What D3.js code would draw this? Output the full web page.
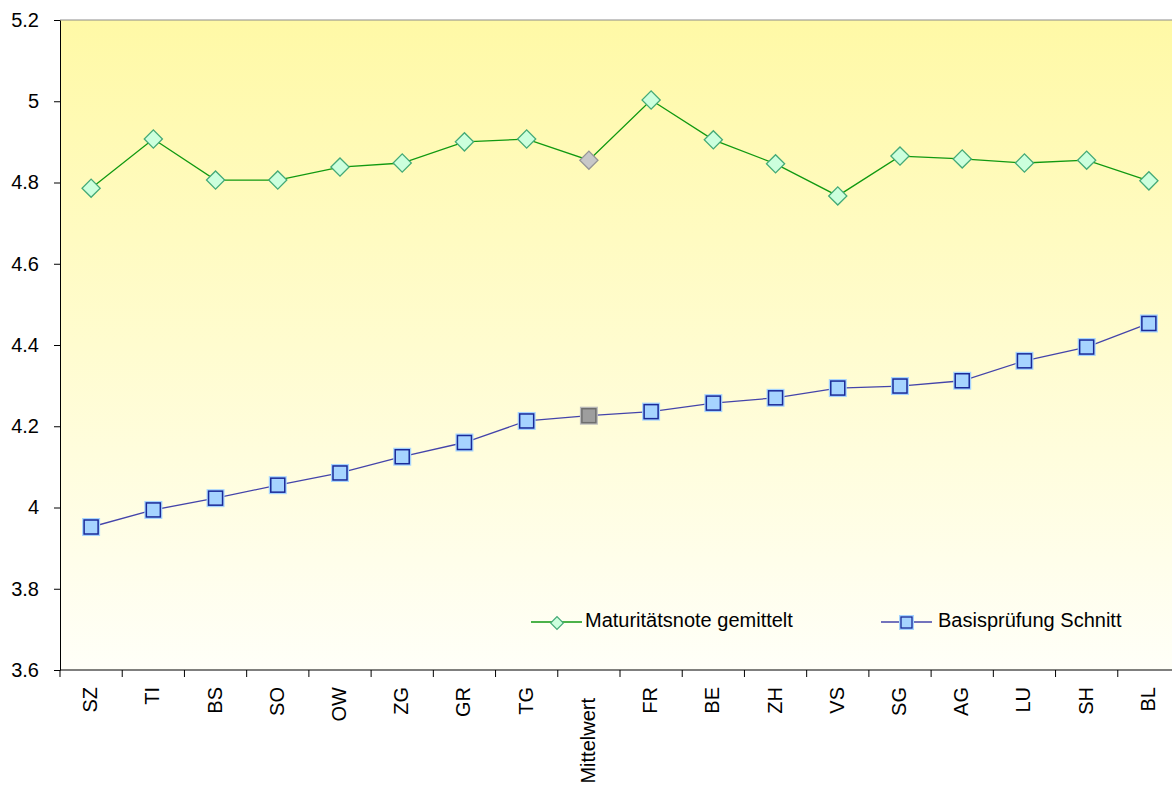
<!DOCTYPE html>
<html>
<head>
<meta charset="utf-8">
<script src="https://cdn.jsdelivr.net/npm/d3@7"></script>
<style>
  body { margin: 0; background: #fff; }
  text { font-family: "Liberation Sans", Arial, sans-serif; }
</style>
</head>
<body>
<div id="chart"></div>
<script>
const kantone = ["SZ", "TI", "BS", "SO", "OW", "ZG", "GR", "TG", "Mittelwert", "FR", "BE", "ZH", "VS", "SG", "AG", "LU", "SH", "BL"];
const maturitaetsnote = [4.786, 4.907, 4.806, 4.806, 4.838, 4.848, 4.900, 4.907, 4.855, 5.003, 4.905, 4.846, 4.767, 4.865, 4.858, 4.848, 4.855, 4.804];
const basispruefung = [3.952, 3.994, 4.023, 4.055, 4.085, 4.125, 4.160, 4.213, 4.226, 4.236, 4.257, 4.270, 4.294, 4.299, 4.312, 4.361, 4.395, 4.453];
const yTicks = [3.6, 3.8, 4, 4.2, 4.4, 4.6, 4.8, 5, 5.2];

const width = 1172, height = 787;
const margin = { top: 20, right: -8, bottom: 117, left: 60 };
const innerW = width - margin.left - margin.right;
const innerH = height - margin.top - margin.bottom;

const svg = d3.select("#chart").append("svg")
    .attr("width", width)
    .attr("height", height);

const defs = svg.append("defs");
const grad = defs.append("linearGradient")
    .attr("id", "bg")
    .attr("x1", "0%").attr("y1", "0%")
    .attr("x2", "0%").attr("y2", "100%");
grad.append("stop").attr("offset", "0%").attr("stop-color", "#fff9a6");
grad.append("stop").attr("offset", "100%").attr("stop-color", "#fffff8");

const g = svg.append("g")
    .attr("transform", `translate(${margin.left},${margin.top})`);

const x = d3.scaleBand().domain(kantone).range([0, innerW]);
const y = d3.scaleLinear().domain([3.6, 5.2]).range([innerH, 0]);

g.append("rect")
    .attr("width", innerW)
    .attr("height", innerH)
    .attr("fill", "url(#bg)");

// top border
g.append("line")
    .attr("x1", 0).attr("x2", innerW)
    .attr("y1", 0).attr("y2", 0)
    .attr("stroke", "#8c8c8c");

// y axis
const yAxis = g.append("g")
    .call(d3.axisLeft(y).tickValues(yTicks).tickSize(6).tickSizeOuter(0).tickFormat(d3.format("")));
yAxis.select(".domain").attr("stroke", "#000");
yAxis.selectAll(".tick line").attr("stroke", "#000");
yAxis.selectAll(".tick text")
    .attr("font-size", 20)
    .attr("fill", "#000")
    .attr("x", -21);

// x axis, ticks between categories
const xAxisG = g.append("g").attr("transform", `translate(0,${innerH})`);
xAxisG.append("line")
    .attr("x1", 0).attr("x2", innerW)
    .attr("stroke", "#000");
xAxisG.selectAll(".sep")
    .data(kantone)
    .enter().append("line")
    .attr("x1", d => x(d)).attr("x2", d => x(d))
    .attr("y1", 0).attr("y2", 7)
    .attr("stroke", "#000");
xAxisG.selectAll(".lbl")
    .data(kantone)
    .enter().append("text")
    .attr("transform", d => `translate(${x(d) + x.bandwidth() / 2 + 6},${d === "Mittelwert" ? 28 : 17}) rotate(-90)`)
    .attr("text-anchor", "end")
    .attr("font-size", 20)
    .attr("fill", "#000")
    .text(d => d);

const cx = d => x(d) + x.bandwidth() / 2;

// green series
const line = d3.line().x((d, i) => cx(kantone[i])).y(d => y(d));
g.append("path")
    .datum(maturitaetsnote)
    .attr("d", line)
    .attr("fill", "none")
    .attr("stroke", "#119911")
    .attr("stroke-width", 1.3);

g.selectAll(".dia")
    .data(maturitaetsnote)
    .enter().append("path")
    .attr("d", d3.symbol().type(d3.symbolSquare).size(165))
    .attr("transform", (d, i) => `translate(${cx(kantone[i])},${y(d)}) rotate(45)`)
    .attr("fill", (d, i) => kantone[i] === "Mittelwert" ? "#c8c8c8" : "#ccffdd")
    .attr("stroke", (d, i) => kantone[i] === "Mittelwert" ? "#969696" : "#44aa77")
    .attr("stroke-width", 1.3);

// blue series
g.append("path")
    .datum(basispruefung)
    .attr("d", line)
    .attr("fill", "none")
    .attr("stroke", "#4444aa")
    .attr("stroke-width", 1.3);

const sq = g.selectAll(".sq")
    .data(basispruefung)
    .enter().append("g")
    .attr("transform", (d, i) => `translate(${cx(kantone[i])},${y(d)})`);
sq.append("rect")
    .attr("x", -9).attr("y", -9).attr("width", 18).attr("height", 18)
    .attr("fill", (d, i) => kantone[i] === "Mittelwert" ? "#bbbbbb" : "#a6d4ff");
sq.append("rect")
    .attr("x", -7).attr("y", -7).attr("width", 14).attr("height", 14)
    .attr("fill", (d, i) => kantone[i] === "Mittelwert" ? "#9e9e9e" : "#a6d4ff")
    .attr("stroke", (d, i) => kantone[i] === "Mittelwert" ? "#6e6e6e" : "#1a2a99")
    .attr("stroke-width", 1.5);

// legend
const legend = svg.append("g").attr("transform", "translate(0,622)");
legend.append("line").attr("x1", 531).attr("x2", 582).attr("stroke", "#119911").attr("stroke-width", 1.3);
legend.append("path")
    .attr("d", d3.symbol().type(d3.symbolSquare).size(80))
    .attr("transform", "translate(557,1) rotate(45)")
    .attr("fill", "#ccffdd").attr("stroke", "#44aa77").attr("stroke-width", 1.2);
legend.append("text").attr("x", 585).attr("y", -2).attr("dy", "0.35em")
    .attr("font-size", 20).text("Maturitätsnote gemittelt");

legend.append("line").attr("x1", 881).attr("x2", 932).attr("stroke", "#4444aa").attr("stroke-width", 1.3);
legend.append("rect").attr("x", 899).attr("y", -7).attr("width", 15).attr("height", 15).attr("fill", "#a6d4ff");
legend.append("rect").attr("x", 901).attr("y", -5).attr("width", 11).attr("height", 11)
    .attr("fill", "#a6d4ff").attr("stroke", "#1a2a99").attr("stroke-width", 1.3);
legend.append("text").attr("x", 938).attr("y", -2).attr("dy", "0.35em")
    .attr("font-size", 20).text("Basisprüfung Schnitt");
</script>
</body>
</html>
